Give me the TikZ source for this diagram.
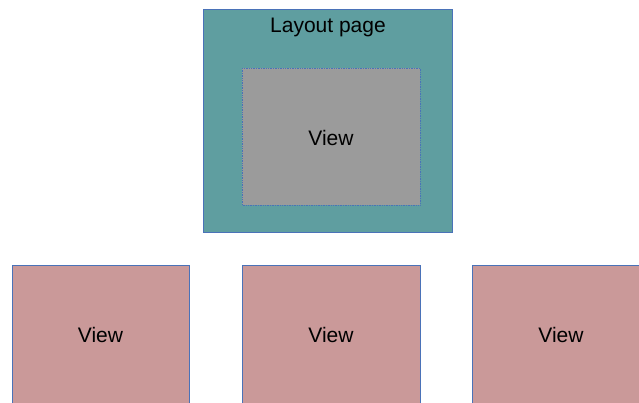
\documentclass[tikz,border=0pt]{standalone}
\usepackage{fontspec}
\setmainfont{Liberation Sans}
\definecolor{teal1}{HTML}{5F9EA0}
\definecolor{gray1}{HTML}{9B9B9B}
\definecolor{pink1}{HTML}{CA9999}
\definecolor{edge1}{HTML}{4A72B8}
\begin{document}
\begin{tikzpicture}[x=1pt,y=-1pt,
  box/.style={draw=edge1,line width=0.7pt,inner sep=0pt},
  pagebox/.style={box,fill=teal1},
  innerview/.style={box,fill=gray1,densely dotted},
  viewbox/.style={box,fill=pink1},
  lbl/.style={font=\fontsize{21}{25}\selectfont}]
\useasboundingbox (0,0) rectangle (639,403);
\clip (0,0) rectangle (639,403);
\fill[white] (0,0) rectangle (639,403);
\draw[pagebox] (203,9) rectangle (452,232);
\node[lbl] (title) at (328,27) {Layout page};
\draw[innerview] (242,68) rectangle (420,205);
\node[lbl] (v0) at (331,137.5) {View};
\draw[viewbox] (12,265) rectangle (189,410);
\node[lbl] (v1) at (100.5,334.5) {View};
\draw[viewbox] (242,265) rectangle (420,410);
\node[lbl] (v2) at (331,334.5) {View};
\draw[viewbox] (472,265) rectangle (650,410);
\node[lbl] (v3) at (561,334.5) {View};
\end{tikzpicture}
\end{document}
